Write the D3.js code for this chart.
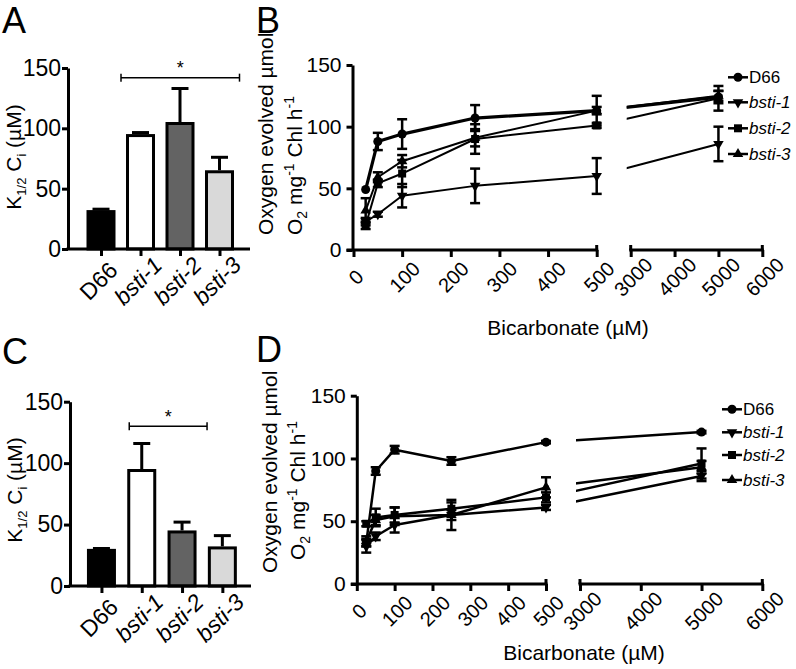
<!DOCTYPE html>
<html><head><meta charset="utf-8">
<script src="https://cdn.jsdelivr.net/npm/d3@7"></script>
<style>
body{margin:0;background:#fff}
svg{display:block}
text{font-family:"Liberation Sans",Arial,sans-serif;fill:#000}
</style>
</head><body>
<svg id="chart" width="796" height="669"></svg>
<script>
// ---------------- DATA ----------------
const strains = ["D66", "bsti-1", "bsti-2", "bsti-3"];
const barFills = ["#000000", "#ffffff", "#636363", "#d9d9d9"];
// Panel A: K1/2 Ci (µM)
const meanA = [31, 94, 104, 64];
const errA  = [2, 2.5, 29, 12];
// Panel C
const meanC = [29, 94, 44, 31];
const errC  = [1.5, 22, 8, 10];
const yTicksBar = [0, 50, 100, 150];

// Panels B/D: bicarbonate (µM) vs oxygen evolved
const bicarb = [25, 50, 100, 250, 500, 5000];
const xTicksLow = [0, 100, 200, 300, 400, 500];
const xTicksHigh = [3000, 4000, 5000, 6000];
const yTicksLine = [0, 50, 100, 150];

const B_D66    = [49, 88, 94, 107, 113, 124];
const B_D66e   = [0, 7, 12, 10.5, 12, 5];
const B_bsti1  = [23, 29, 44, 52, 60, 86];
const B_bsti1e = [3, 2, 9.5, 14, 14.5, 14];
const B_bsti2  = [20, 54, 62, 90, 101, 123];
const B_bsti2e = [3, 3, 11, 12, 2, 10];
const B_bsti3  = [32, 59, 72, 91, 113, 125];
const B_bsti3e = [10, 4, 5, 7, 3, 4];

const D_D66    = [33, 90, 107, 98, 113, 121];
const D_D66e   = [3, 3, 3, 3, 1, 1];
const D_bsti1  = [30, 38, 47, 55, 61, 86];
const D_bsti1e = [5, 3, 6, 4, 2, 4];
const D_bsti2  = [48, 53, 55, 60, 69, 96];
const D_bsti2e = [2, 7, 6, 5, 4, 12];
const D_bsti3  = [34, 51, 54, 55, 77, 93];
const D_bsti3e = [4, 4, 7, 12, 8, 5];

// ---------------- DRAW ----------------
const svg = d3.select("#chart");
const FONT = '"Liberation Sans", Arial, sans-serif';

function styleAxis(g, fs) {
  g.attr("font-family", FONT).attr("font-size", fs);
  g.selectAll(".domain").attr("stroke", "#000").attr("stroke-width", 3);
  g.selectAll(".tick line").attr("stroke", "#000").attr("stroke-width", 3);
  g.selectAll(".tick text").attr("fill", "#000");
}

function panelLabel(txt, x, y) {
  svg.append("text").attr("x", x).attr("y", y).attr("font-size", 36).text(txt);
}

function barPanel(o) {
  const g = svg.append("g");
  const y = d3.scaleLinear().domain([0, 150]).range(o.yRange);
  const x = d3.scalePoint().domain(strains).range(o.xRange).padding(0.5);
  const bw = 26;
  g.selectAll("rect.bar").data(strains).join("rect")
    .attr("x", d => x(d) - bw / 2)
    .attr("y", (d, i) => y(o.mean[i]))
    .attr("width", bw)
    .attr("height", (d, i) => y(0) - y(o.mean[i]))
    .attr("fill", (d, i) => barFills[i])
    .attr("stroke", "#000").attr("stroke-width", 3);
  strains.forEach((s, i) => {
    const cx = x(s), top = y(o.mean[i] + o.err[i]);
    g.append("line").attr("x1", cx).attr("x2", cx)
      .attr("y1", y(o.mean[i]) - 1.5).attr("y2", top)
      .attr("stroke", "#000").attr("stroke-width", 3);
    g.append("line").attr("x1", cx - 8.5).attr("x2", cx + 8.5)
      .attr("y1", top).attr("y2", top)
      .attr("stroke", "#000").attr("stroke-width", 3);
  });
  const ya = g.append("g").attr("transform", `translate(${o.axisX},0)`)
    .call(d3.axisLeft(y).tickValues(yTicksBar).tickSize(6).tickSizeOuter(0).tickPadding(1));
  styleAxis(ya, 23);
  const xa = g.append("g").attr("transform", `translate(0,${y(0)})`)
    .call(d3.axisBottom(x).tickSize(7).tickSizeOuter(0));
  styleAxis(xa, 23);
  xa.select(".domain").remove();
  xa.append("line").attr("x1", o.axisX - 1.5).attr("x2", o.xEnd)
    .attr("stroke", "#000").attr("stroke-width", 3);
  xa.selectAll(".tick text")
    .attr("text-anchor", "middle")
    .attr("y", 0).attr("dy", "0.35em")
    .attr("transform", "translate(-3,32) rotate(-45)")
    .attr("font-style", d => d === "D66" ? "normal" : "italic");
  const sx1 = x(o.sigFrom) + o.sigOff[0], sx2 = x(o.sigTo) + o.sigOff[1], sy = y(o.sigY);
  g.append("line").attr("x1", sx1).attr("x2", sx2).attr("y1", sy).attr("y2", sy)
    .attr("stroke", "#000").attr("stroke-width", 1.5);
  [sx1, sx2].forEach(sx => g.append("line").attr("x1", sx).attr("x2", sx)
    .attr("y1", sy - 4).attr("y2", sy + 4).attr("stroke", "#000").attr("stroke-width", 1.5));
  g.append("text").attr("x", (sx1 + sx2) / 2).attr("y", sy - 3.5)
    .attr("text-anchor", "middle").attr("font-size", 18).text("*");
  const yl = g.append("text").attr("transform", `translate(${o.labelX},${o.labelY}) rotate(-90)`)
    .attr("text-anchor", "middle").attr("font-size", 21);
  yl.append("tspan").text("K");
  yl.append("tspan").attr("font-size", 13).attr("dy", 5).text("1/2");
  yl.append("tspan").attr("dy", -5).text(" C");
  yl.append("tspan").attr("font-size", 13).attr("dy", 5).text("i");
  yl.append("tspan").attr("dy", -5).text(" (µM)");
}

function linePanel(o) {
  const g = svg.append("g");
  const xl = d3.scaleLinear().domain([0, 500]).range(o.xlRange);
  const xr = d3.scaleLinear().domain([3000, 6000]).range(o.xrRange);
  const y = d3.scaleLinear().domain([0, 150]).range(o.yRange);
  const xp = v => v <= 500 ? xl(v) : xr(v);
  const axisY = y(0);
  const yAxisX = xl(0) - o.yShift;

  const ya = g.append("g").attr("transform", `translate(${yAxisX},0)`)
    .call(d3.axisLeft(y).tickValues(yTicksLine).tickSize(6).tickSizeOuter(0).tickPadding(5));
  styleAxis(ya, 21);
  const xa1 = g.append("g").attr("transform", `translate(0,${axisY})`)
    .call(d3.axisBottom(xl).tickValues(xTicksLow).tickSize(7).tickSizeOuter(0));
  styleAxis(xa1, 20);
  xa1.select(".domain").remove();
  xa1.append("line").attr("x1", yAxisX - 6).attr("x2", xl(500) + 1.5)
    .attr("stroke", "#000").attr("stroke-width", 3);
  xa1.append("line").attr("x1", xl(500)).attr("x2", xl(500)).attr("y1", -5).attr("y2", 0)
    .attr("stroke", "#000").attr("stroke-width", 3);
  const xa2 = g.append("g").attr("transform", `translate(0,${axisY})`)
    .call(d3.axisBottom(xr).tickValues(xTicksHigh).tickSize(7).tickSizeOuter(0).tickFormat(d3.format("d")));
  styleAxis(xa2, 20);
  xa2.select(".domain").remove();
  xa2.append("line").attr("x1", xr(3000) - 1.5).attr("x2", xr(6000) + 1.5)
    .attr("stroke", "#000").attr("stroke-width", 3);
  [3000, 6000].forEach(v => xa2.append("line").attr("x1", xr(v)).attr("x2", xr(v))
    .attr("y1", -5).attr("y2", 0).attr("stroke", "#000").attr("stroke-width", 3));
  [xa1, xa2].forEach(xa => xa.selectAll(".tick text")
    .attr("text-anchor", "middle").attr("y", 0).attr("dy", "0.35em")
    .attr("transform", "translate(2,27) rotate(-45)"));

  const cid = "clip" + o.id;
  const cp = svg.append("clipPath").attr("id", cid);
  cp.append("rect").attr("x", 0).attr("y", 0).attr("width", xl(500) + 3).attr("height", 669);
  cp.append("rect").attr("x", xr(3000) - 4).attr("y", 0).attr("width", 796).attr("height", 669);

  const line = d3.line().x(d => xp(d[0])).y(d => y(d[1]));
  const markers = ["circle", "down", "square", "up"];
  const drawOrder = [3, 2, 1, 0];
  drawOrder.forEach(si => {
    const vals = o.series[si], errs = o.errs[si];
    const pts = bicarb.map((b, i) => [b, vals[i], errs[i]]);
    g.append("path").datum(pts).attr("d", line)
      .attr("fill", "none").attr("stroke", "#000")
      .attr("stroke-width", o.lw[si]).attr("stroke-linejoin", "round")
      .attr("clip-path", `url(#${cid})`);
    pts.forEach(p => {
      if (p[2] > 0) {
        const cx = xp(p[0]), y1 = y(p[1] - p[2]), y2 = y(p[1] + p[2]);
        g.append("line").attr("x1", cx).attr("x2", cx).attr("y1", y1).attr("y2", y2)
          .attr("stroke", "#000").attr("stroke-width", 2.5);
        [y1, y2].forEach(yy => g.append("line").attr("x1", cx - 5).attr("x2", cx + 5)
          .attr("y1", yy).attr("y2", yy).attr("stroke", "#000").attr("stroke-width", 2.5));
      }
    });
    g.selectAll(null).data(pts).join("path")
      .attr("transform", p => `translate(${xp(p[0])},${y(p[1])})`)
      .attr("d", symbolPath(markers[si]))
      .attr("fill", "#000");
  });

  strains.forEach((s, i) => {
    const ly = o.legY[i];
    g.append("line").attr("x1", o.legX).attr("x2", o.legX + 20).attr("y1", ly).attr("y2", ly)
      .attr("stroke", "#000").attr("stroke-width", 2.5);
    g.append("path").attr("transform", `translate(${o.legX + 10},${ly})`)
      .attr("d", symbolPath(markers[i])).attr("fill", "#000");
    g.append("text").attr("x", o.legX + 21).attr("y", ly).attr("dy", "0.36em")
      .attr("font-size", 17).attr("font-style", i === 0 ? "normal" : "italic").text(s);
  });

  g.append("text").attr("x", o.xLabel[0]).attr("y", o.xLabel[1])
    .attr("text-anchor", "middle").attr("font-size", 21).text("Bicarbonate (µM)");
  g.append("text").attr("transform", `translate(${o.yl1[0]},${o.yl1[1]}) rotate(-90)`)
    .attr("text-anchor", "start").attr("font-size", 21).text("Oxygen evolved µmol");
  const t2 = g.append("text").attr("transform", `translate(${o.yl2[0]},${o.yl2[1]}) rotate(-90)`)
    .attr("text-anchor", "start").attr("font-size", 21);
  t2.append("tspan").text("O");
  t2.append("tspan").attr("font-size", 14).attr("dy", 5).text("2");
  t2.append("tspan").attr("dy", -5).text(" mg");
  t2.append("tspan").attr("font-size", 14).attr("dy", -8).text("-1");
  t2.append("tspan").attr("dy", 8).text(" Chl h");
  t2.append("tspan").attr("font-size", 14).attr("dy", -8).text("-1");
}

function symbolPath(kind) {
  if (kind === "circle") return d3.symbol(d3.symbolCircle, 64)();
  if (kind === "square") return d3.symbol(d3.symbolSquare, 64)();
  const tri = d3.symbol(d3.symbolTriangle, 48)();
  if (kind === "up") return tri;
  return tri.replace(/(-?\d*\.?\d+(?:e-?\d+)?),(-?\d*\.?\d+(?:e-?\d+)?)/g,
    (m, a, b) => `${a},${-parseFloat(b)}`);
}

panelLabel("A", 2, 33);
barPanel({
  mean: meanA, err: errA, yRange: [249, 68], xRange: [81.25, 239.25], axisX: 68, xEnd: 250,
  sigFrom: "bsti-1", sigTo: "bsti-3", sigOff: [-19.5, 20], sigY: 142,
  labelX: 21, labelY: 157
});
panelLabel("C", 2, 364);
barPanel({
  mean: meanC, err: errC, yRange: [586, 401.7], xRange: [81.3, 242.5], axisX: 70, xEnd: 251,
  sigFrom: "bsti-1", sigTo: "bsti-2", sigOff: [-12.5, 25], sigY: 130,
  labelX: 22, labelY: 490
});
panelLabel("B", 256, 33);
linePanel({
  id: "B", xlRange: [353.5, 596.7], xrRange: [630.7, 762.3], yRange: [250, 65], yShift: 1,
  series: [B_D66, B_bsti1, B_bsti2, B_bsti3], errs: [B_D66e, B_bsti1e, B_bsti2e, B_bsti3e],
  lw: [3.2, 2, 2, 2],
  legX: 728, legY: [77.3, 102.3, 128.3, 154],
  xLabel: [568, 335], yl1: [273, 235], yl2: [302, 235]
});
panelLabel("D", 256, 362);
linePanel({
  id: "D", xlRange: [356.8, 546], xrRange: [580, 762.3], yRange: [584, 395.7], yShift: 0,
  series: [D_D66, D_bsti1, D_bsti2, D_bsti3], errs: [D_D66e, D_bsti1e, D_bsti2e, D_bsti3e],
  lw: [2.5, 2.5, 2.5, 2.5],
  legX: 722, legY: [409.3, 432.3, 455, 480],
  xLabel: [584, 660], yl1: [277, 573], yl2: [305, 560]
});
</script>
</body></html>
